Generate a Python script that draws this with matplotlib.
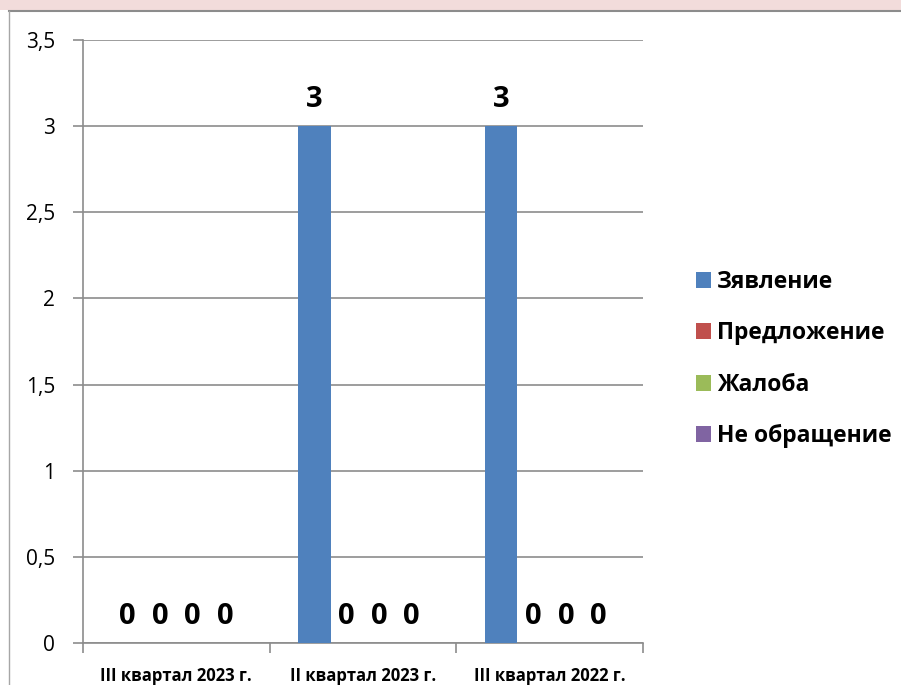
import numpy as np
import matplotlib
matplotlib.use("Agg")
import matplotlib.pyplot as plt
from matplotlib.patches import Rectangle, Patch

plt.rcParams['font.family'] = ['Open Sans', 'DejaVu Sans']

# data
categories = ["III квартал 2023 г.", "II квартал 2023 г.", "III квартал 2022 г."]
series_names = ["Зявление", "Предложение", "Жалоба", "Не обращение"]
series_colors = ["#4F81BD", "#C0504D", "#9BBB59", "#8064A2"]
values = [
    [0, 3, 3],   # Зявление
    [0, 0, 0],   # Предложение
    [0, 0, 0],   # Жалоба
    [0, 0, 0],   # Не обращение
]

W, H = 901, 685
fig = plt.figure(figsize=(W / 100, H / 100), dpi=100)
fig.patch.set_facecolor("white")

# pink header strip and chart frame
fig.patches.append(Rectangle((0, (H - 10) / H), 1, 10 / H, transform=fig.transFigure,
                             facecolor="#F2DCDB", edgecolor="none", zorder=0))
fig.add_artist(plt.Line2D([9 / W, 1], [(H - 10.5) / H] * 2, color="#8C8C8C", lw=1.5))
fig.add_artist(plt.Line2D([9 / W, 9 / W], [0, (H - 10.5) / H], color="#A6A6A6", lw=1))

left, right, top, bottom = 83, 643, 40, 643
ax = fig.add_axes([left / W, (H - bottom) / H, (right - left) / W, (bottom - top) / H])

x = np.arange(len(categories))
w = 0.174
for j, name in enumerate(series_names):
    pos = x + (j - 1.5) * w
    ax.bar(pos, values[j], width=w, color=series_colors[j], zorder=3, label=name)
    for i, v in enumerate(values[j]):
        ax.annotate(str(v), (pos[i], v), xytext=(0, 14), textcoords="offset points",
                    ha="center", va="baseline", fontsize=21, fontweight="bold", color="black")

ax.set_xlim(-0.5, len(categories) - 0.5)
ax.set_ylim(0, 3.5)
ax.set_yticks(np.arange(0, 3.51, 0.5))
ax.set_yticklabels([f"{t:g}".replace(".", ",") for t in np.arange(0, 3.51, 0.5)])
ax.yaxis.grid(True, color="#8C8C8C", lw=1.2, zorder=0)
ax.set_axisbelow(True)

ax.set_xticks(np.arange(-0.5, len(categories), 1))
ax.set_xticklabels([])
ax.set_xticks(x, minor=True)
ax.set_xticklabels(categories, minor=True, fontsize=12, fontweight="bold")
ax.tick_params(axis="x", which="minor", length=0, pad=17)
ax.tick_params(axis="x", which="major", length=7, color="#8C8C8C", width=1.2)
ax.tick_params(axis="y", length=7, color="#8C8C8C", width=1.2, labelsize=15, pad=13)

for s in ["top", "right"]:
    ax.spines[s].set_visible(False)
for s in ["left", "bottom"]:
    ax.spines[s].set_color("#8C8C8C")
    ax.spines[s].set_linewidth(1.2)

handles = [Patch(facecolor=c, edgecolor="none") for c in series_colors]
fig.legend(handles, series_names, loc="center left", bbox_to_anchor=(675 / W, (H - 359) / H),
           frameon=False, prop={"size": 16.5, "weight": "bold"}, handlelength=0.68,
           handleheight=0.68, handletextpad=0.25, labelspacing=1.2)

fig.savefig("out.png", dpi=100)
